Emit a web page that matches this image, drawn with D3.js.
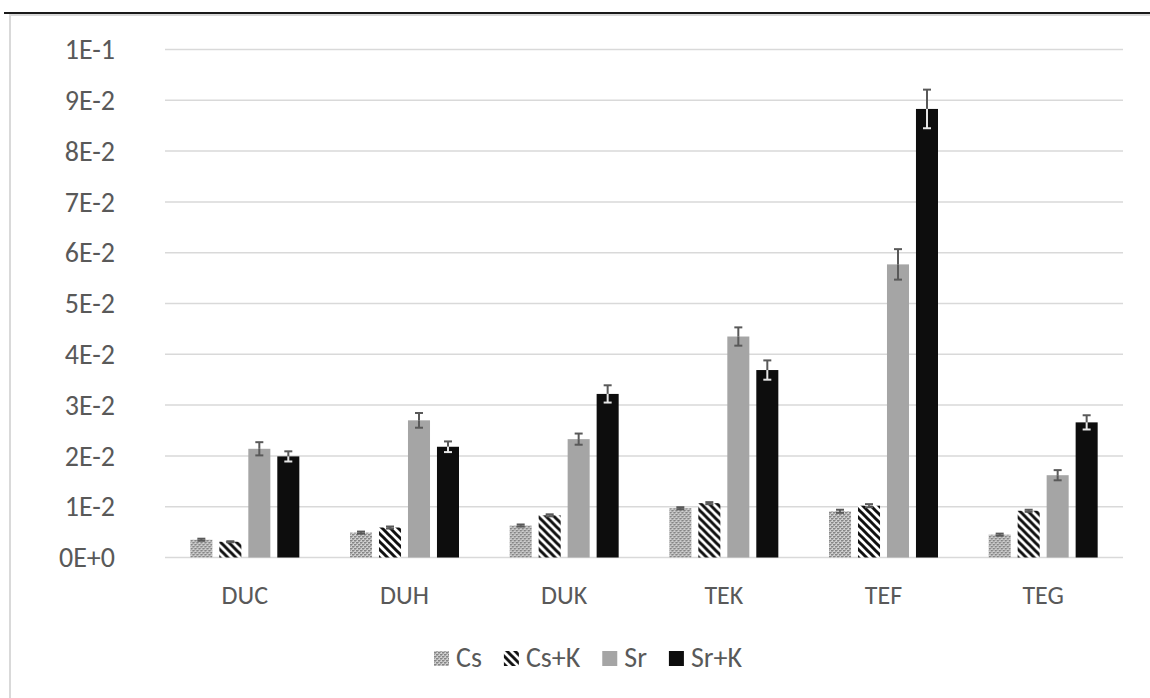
<!DOCTYPE html>
<html>
<head>
<meta charset="utf-8">
<script src="https://cdn.jsdelivr.net/npm/d3@7"></script>
<style>
  html, body { margin: 0; padding: 0; background: #ffffff; }
  svg { display: block; }
  text { font-family: Carlito, Calibri, "Open Sans", sans-serif; fill: #595959; }
</style>
</head>
<body>
<svg id="chart" width="1150" height="698"></svg>
<script>
const categories = ["DUC", "DUH", "DUK", "TEK", "TEF", "TEG"];
const seriesNames = ["Cs", "Cs+K", "Sr", "Sr+K"];
const csValues   = [0.0035, 0.0049, 0.0063, 0.0097, 0.0091, 0.0045];
const csKValues  = [0.0031, 0.0059, 0.0083, 0.0107, 0.0102, 0.0092];
const srValues   = [0.0214, 0.0270, 0.0233, 0.0435, 0.0577, 0.0162];
const srKValues  = [0.0199, 0.0218, 0.0322, 0.0369, 0.0883, 0.0266];
const csErr      = [0.0002, 0.0002, 0.0002, 0.0002, 0.0003, 0.0002];
const csKErr     = [0.0001, 0.0002, 0.0002, 0.0002, 0.0003, 0.0002];
const srErr      = [0.0013, 0.00145, 0.0011, 0.0018, 0.0030, 0.0010];
const srKErr     = [0.0010, 0.00105, 0.0017, 0.0019, 0.0038, 0.0014];
const yTickValues = [0, 0.01, 0.02, 0.03, 0.04, 0.05, 0.06, 0.07, 0.08, 0.09, 0.1];
const yTickLabels = ["0E+0", "1E-2", "2E-2", "3E-2", "4E-2", "5E-2", "6E-2", "7E-2", "8E-2", "9E-2", "1E-1"];

const valuesBySeries = [csValues, csKValues, srValues, srKValues];
const errBySeries = [csErr, csKErr, srErr, srKErr];
const FONT = 'Carlito, Calibri, "Open Sans", sans-serif';

const svg = d3.select("#chart");
const defs = svg.append("defs");

// Cs: grey dither pattern
const pCs = defs.append("pattern").attr("id", "pCs")
  .attr("patternUnits", "userSpaceOnUse").attr("width", 4).attr("height", 4);
pCs.append("rect").attr("width", 4).attr("height", 4).attr("fill", "#cfcfcf");
pCs.append("rect").attr("x", 0).attr("y", 0).attr("width", 2).attr("height", 1.5).attr("fill", "#858585");
pCs.append("rect").attr("x", 2).attr("y", 2).attr("width", 2).attr("height", 1.5).attr("fill", "#858585");
pCs.append("rect").attr("x", 2).attr("y", 0).attr("width", 1).attr("height", 1).attr("fill", "#a3a3a3");
pCs.append("rect").attr("x", 0).attr("y", 2).attr("width", 1).attr("height", 1).attr("fill", "#a3a3a3");

// Cs+K: wide downward diagonal stripes
const pCsK = defs.append("pattern").attr("id", "pCsK")
  .attr("patternUnits", "userSpaceOnUse").attr("width", 8).attr("height", 8);
pCsK.append("rect").attr("width", 8).attr("height", 8).attr("fill", "#ffffff");
[[-2, 6, 2, 10], [0, 0, 8, 8], [6, -2, 10, 2]].forEach(s => {
  pCsK.append("line").attr("x1", s[0]).attr("y1", s[1]).attr("x2", s[2]).attr("y2", s[3])
    .attr("stroke", "#111111").attr("stroke-width", 3);
});

const fills = ["url(#pCs)", "url(#pCsK)", "#a5a5a5", "#0d0d0d"];
const innerErrColor = ["#595959", "#595959", "#595959", "#e6e6e6"];

// frame
svg.append("line").attr("x1", 4).attr("x2", 1150).attr("y1", 13).attr("y2", 13)
  .attr("stroke", "#1a1a1a").attr("stroke-width", 2);
svg.append("rect").attr("x", 10).attr("y", 15).attr("width", 1160).attr("height", 700)
  .attr("fill", "none").attr("stroke", "#d9d9d9").attr("stroke-width", 2);

const x0 = d3.scaleBand().domain(categories).range([165, 1123]).padding(0);
const groupW = 109;
const x1 = d3.scaleBand().domain(seriesNames).range([0, groupW]).paddingInner(0.24).paddingOuter(0);
const y = d3.scaleLinear().domain([0, 0.1]).range([557.5, 49.5]);

// gridlines
svg.append("g").selectAll("line").data(yTickValues).join("line")
  .attr("x1", 165).attr("x2", 1123)
  .attr("y1", d => y(d)).attr("y2", d => y(d))
  .attr("stroke", "#d9d9d9").attr("stroke-width", 1.5);

// y axis labels
const yAxis = d3.axisLeft(y).tickValues(yTickValues)
  .tickFormat((d, i) => yTickLabels[i]).tickSize(0).tickPadding(0);
const gy = svg.append("g").attr("transform", "translate(115,0)").call(yAxis);
gy.select(".domain").remove();
gy.selectAll("text").attr("font-size", 28).attr("fill", "#595959").attr("dy", "0.33em")
  .style("font-family", FONT);

// x axis labels
const xAxis = d3.axisBottom(x0).tickSize(0).tickPadding(0);
const gx = svg.append("g").attr("transform", "translate(0,604)").call(xAxis);
gx.select(".domain").remove();
gx.selectAll("text").attr("font-size", 26).attr("fill", "#595959").attr("y", 0).attr("dy", 0)
  .style("font-family", FONT);

// bars
const groups = svg.append("g").selectAll("g").data(categories).join("g")
  .attr("transform", d => `translate(${x0(d) + x0.bandwidth() / 2 - groupW / 2},0)`);

seriesNames.forEach((s, si) => {
  groups.append("rect")
    .attr("x", x1(s))
    .attr("width", x1.bandwidth())
    .attr("y", (d, ci) => y(valuesBySeries[si][ci]))
    .attr("height", (d, ci) => y(0) - y(valuesBySeries[si][ci]))
    .attr("fill", fills[si]);
});

// error bars
seriesNames.forEach((s, si) => {
  const cx = x1(s) + x1.bandwidth() / 2;
  const eg = groups.append("g");
  eg.append("line").attr("x1", cx).attr("x2", cx)
    .attr("y1", (d, ci) => y(valuesBySeries[si][ci]))
    .attr("y2", (d, ci) => y(valuesBySeries[si][ci] + errBySeries[si][ci]))
    .attr("stroke", "#595959").attr("stroke-width", 2);
  eg.append("line").attr("x1", cx - 4).attr("x2", cx + 4)
    .attr("y1", (d, ci) => y(valuesBySeries[si][ci] + errBySeries[si][ci]))
    .attr("y2", (d, ci) => y(valuesBySeries[si][ci] + errBySeries[si][ci]))
    .attr("stroke", "#595959").attr("stroke-width", 2);
  eg.append("line").attr("x1", cx).attr("x2", cx)
    .attr("y1", (d, ci) => y(valuesBySeries[si][ci]))
    .attr("y2", (d, ci) => y(valuesBySeries[si][ci] - errBySeries[si][ci]))
    .attr("stroke", innerErrColor[si]).attr("stroke-width", 2);
  eg.append("line").attr("x1", cx - 4).attr("x2", cx + 4)
    .attr("y1", (d, ci) => y(valuesBySeries[si][ci] - errBySeries[si][ci]))
    .attr("y2", (d, ci) => y(valuesBySeries[si][ci] - errBySeries[si][ci]))
    .attr("stroke", innerErrColor[si]).attr("stroke-width", 2);
});

// legend
const legend = svg.append("g");
let lx = 434;
seriesNames.forEach((s, si) => {
  const item = legend.append("g").attr("transform", `translate(${lx},0)`);
  item.append("rect").attr("x", 0).attr("y", 651).attr("width", 15).attr("height", 15)
    .attr("fill", fills[si]);
  const t = item.append("text").attr("x", 22).attr("y", 666.5)
    .attr("font-size", 28).attr("fill", "#595959").style("font-family", FONT).text(s);
  const w = t.node().getComputedTextLength();
  lx += 22 + w + 22;
});
</script>
</body>
</html>
